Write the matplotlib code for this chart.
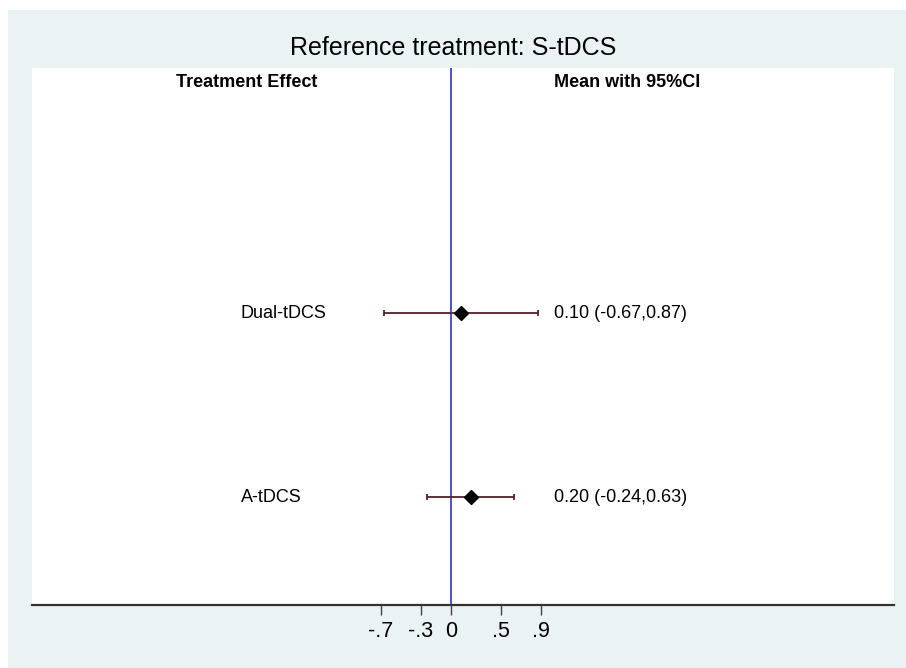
import matplotlib.pyplot as plt
from matplotlib.patches import Rectangle

# forest plot data, reference treatment S-tDCS
treatments = ['Dual-tDCS', 'A-tDCS']
means = [0.10, 0.20]
lower = [-0.67, -0.24]
upper = [0.87, 0.63]
ypos = [2, 1]
tick_vals = [-0.7, -0.3, 0, 0.5, 0.9]
tick_labels = ['-.7', '-.3', '0', '.5', '.9']

W, H = 906, 668
fig = plt.figure(figsize=(W / 100, H / 100), dpi=100, facecolor='white')

# stata-style light background panel
fig.patches.append(Rectangle((8 / W, 0), 1 - 8 / W, 1 - 10 / H,
                             transform=fig.transFigure, facecolor='#eaf2f3',
                             edgecolor='none', zorder=-1))

ax = fig.add_axes([32 / W, (H - 605) / H, (894 - 32) / W, (605 - 68) / H])
ax.set_zorder(1)
ax.set_facecolor('white')
ax.set_xlim((32 - 451) / 100, (894 - 451) / 100)
ax.set_ylim(0.413, 3.332)

ax.axvline(0, color='#1f1fd0', lw=1.1, zorder=1)

for y, m, lo, hi in zip(ypos, means, lower, upper):
    ax.errorbar(m, y, xerr=[[m - lo], [hi - m]], fmt='none', ecolor='#5a1e24',
                elinewidth=1.3, capsize=2.5, capthick=1.3, zorder=2)
    ax.plot(m, y, marker='D', color='black', markersize=7, zorder=3)

for y, name, m, lo, hi in zip(ypos, treatments, means, lower, upper):
    ax.text(-2.10, y, name, ha='left', va='center', fontsize=13,
            family='Liberation Sans')
    ax.text(1.03, y, f'{m:.2f} ({lo:.2f},{hi:.2f})', ha='left', va='center',
            fontsize=13, family='Liberation Sans')

ax.text(-2.04, 3.255, 'Treatment Effect', ha='center', va='center',
        fontsize=13, fontweight='bold', family='Liberation Sans')
ax.text(1.03, 3.255, 'Mean with 95%CI', ha='left', va='center',
        fontsize=13, fontweight='bold', family='Liberation Sans')

fig.text(0.5, (H - 48) / H, 'Reference treatment: S-tDCS', ha='center',
         va='center', fontsize=18, family='Liberation Sans', zorder=2)

ax.set_yticks([])
ax.set_xticks(tick_vals)
ax.set_xticklabels(tick_labels, fontsize=15.5, family='Liberation Sans')
ax.tick_params(axis='x', length=7.5, width=1, color='#444444', pad=4)
for side in ['top', 'left', 'right']:
    ax.spines[side].set_visible(False)
ax.spines['bottom'].set_color('#333333')
ax.spines['bottom'].set_linewidth(1.6)

fig.savefig('out.png', dpi=100)
